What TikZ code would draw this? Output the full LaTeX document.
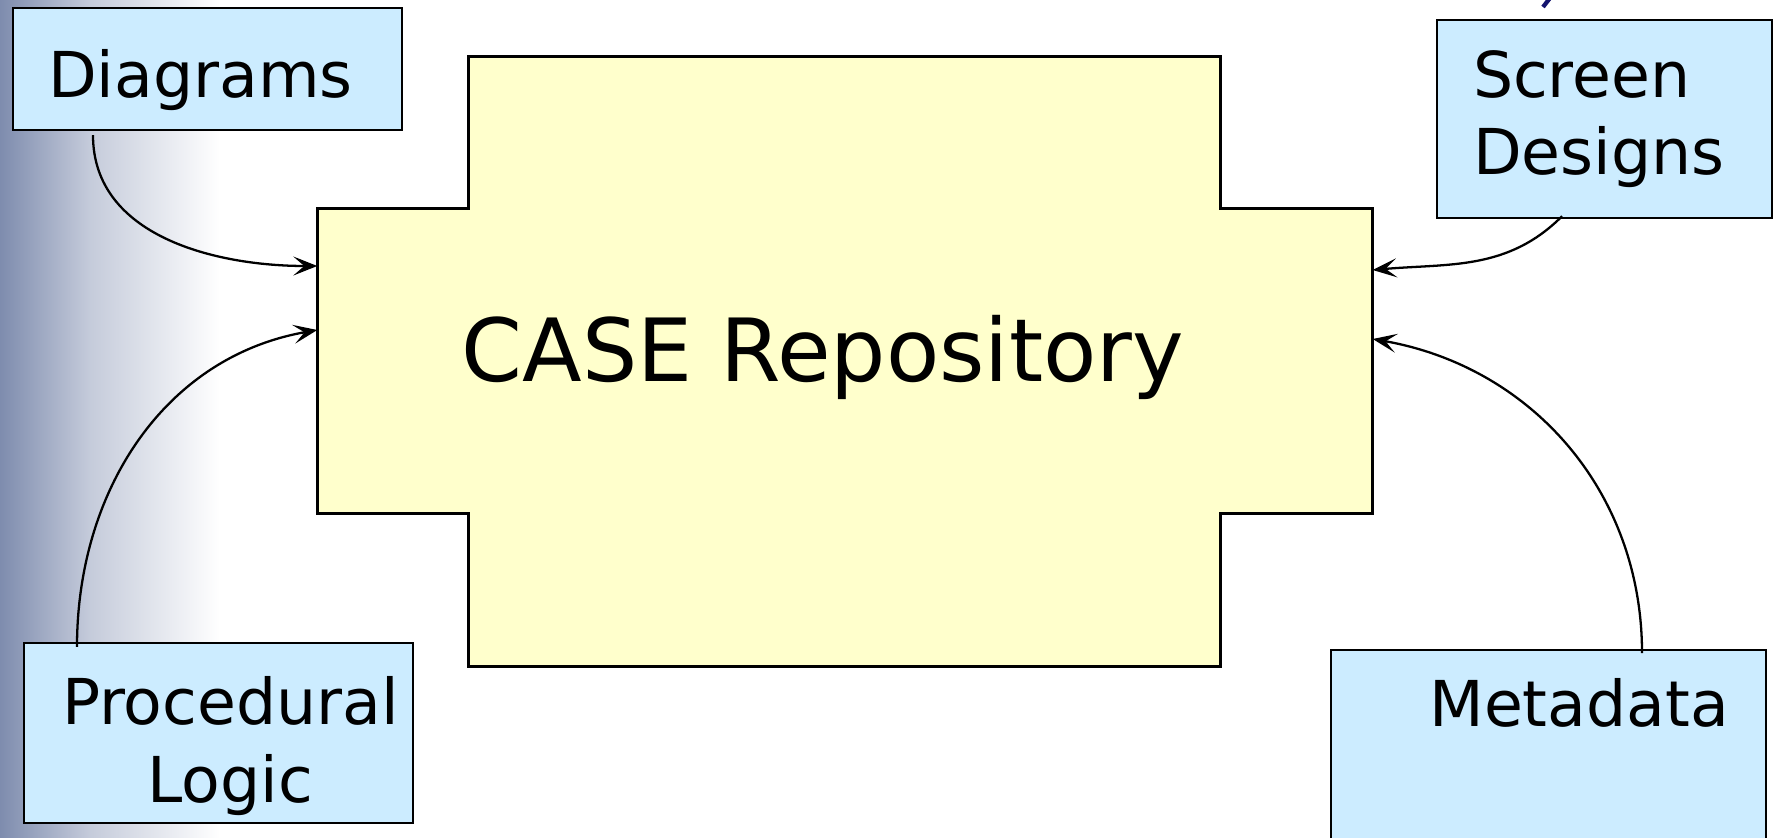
\documentclass[tikz,border=0pt]{standalone}
\usepackage{fontspec}
\setmainfont{DejaVu Sans}
\usepackage{xcolor}
\usetikzlibrary{arrows.meta,positioning}
\definecolor{boxblue}{RGB}{204,236,255}
\definecolor{repoyellow}{RGB}{255,255,204}
\definecolor{edgeblue}{RGB}{126,140,174}
\definecolor{inkblue}{RGB}{20,20,110}

\begin{document}
\begin{tikzpicture}[
  item/.style={rectangle, draw=black, fill=boxblue, line width=0.7pt, inner sep=0pt,
    font=\fontsize{18}{22}\selectfont, align=center},
  repobox/.style={draw=black, fill=repoyellow, line width=0.7pt},
  arr/.style={-{Stealth[length=2.4mm, width=1.9mm, inset=1.1mm]}, line width=0.65pt, color=black},
]
  \useasboundingbox (0,0) rectangle (17.73,-8.37);
  \shade[left color=edgeblue, right color=edgeblue!45] (0,0) rectangle (0.9,-8.37);
  \shade[left color=edgeblue!45, right color=white] (0.9,0) rectangle (2.2,-8.37);
  \draw[inkblue, line width=1.2pt] (15.43,-0.07) -- (15.50,0.02);

  \node[item, minimum width=3.89cm, text height=0.89cm, text depth=0.33cm] (diag) at (2.075,-0.69) {Diagrams\hspace*{0.14cm}};
  \node[item, minimum width=3.35cm, minimum height=1.98cm, text width=2.63cm,
    inner xsep=0.36cm, align=left, yshift=-0.03cm] (screen) at (16.045,-1.16) {Screen\\Designs};
  \node[item, minimum width=3.89cm, text height=1.59cm, text depth=0.21cm] (proc) at (2.185,-7.33)
    {\hspace*{0.24cm}Procedural\\\hspace*{0.24cm}Logic};
  \node[item, anchor=north, text width=3.61cm, inner xsep=0.37cm, inner ysep=0.1cm,
    align=right, text height=0.66cm, text depth=2.6cm] (meta) at (15.485,-6.49) {Metadata};

  \node[minimum width=10.54cm, minimum height=3.04cm, inner sep=0pt] (repo) at (8.45,-3.61) {};
  \node[minimum width=7.51cm, minimum height=6.09cm, inner sep=0pt] (core) at (8.445,-3.615) {};
  \draw[repobox] (core.north west) -- (core.north east) -- (core.north east |- repo.north)
    -- (repo.north east) -- (repo.south east) -- (repo.south east -| core.east)
    -- (core.south east) -- (core.south west) -- (core.south west |- repo.south)
    -- (repo.south west) -- (repo.north west) -- (repo.north west -| core.west) -- cycle;
  \node[anchor=base, font=\fontsize{24.8}{30}\selectfont] (title)
    at ([xshift=-0.22cm, yshift=-0.20cm]repo.center) {CASE Repository};

  \draw[arr] ([xshift=-1.145cm, yshift=-0.04cm]diag.south) to[out=-90, in=180] ([yshift=0.95cm]repo.west);
  \draw[arr] ([xshift=-1.415cm, yshift=-0.05cm]proc.north) to[out=90, in=190] ([yshift=0.31cm]repo.west);
  \draw[arr] ([xshift=-0.425cm, yshift=0.03cm]screen.south) to[out=-135, in=5] ([yshift=0.91cm]repo.east);
  \draw[arr] ([xshift=0.935cm, yshift=-0.04cm]meta.north) to[out=90, in=-10] ([yshift=0.22cm]repo.east);
\end{tikzpicture}
\end{document}
